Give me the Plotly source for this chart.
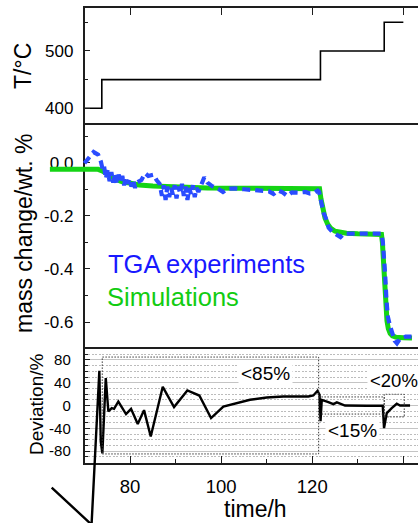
import plotly.graph_objects as go

W, H = 418, 523

# ---------------- data ----------------
temp_time = [70.0, 73.8, 121.8, 135.8, 140.0]
temp_C = [400, 450, 500, 550, 550]

sim_time = [62.4, 73.0, 74.0, 75.0, 76.5, 78.0, 80.0, 82.0, 85.0, 90.0, 97.0, 105.0, 115.0,
            121.6, 121.9, 122.3, 122.8, 123.4, 124.0, 125.0, 126.0, 127.5, 130.0, 135.2,
            135.4, 135.6, 135.8, 136.0, 136.2, 136.4, 136.7, 137.1, 137.6, 138.3, 140.0, 141.9]
sim_mass = [-0.025, -0.025, -0.032, -0.045, -0.060, -0.070, -0.079, -0.084, -0.088, -0.092, -0.095, -0.096, -0.097,
            -0.098, -0.135, -0.175, -0.208, -0.232, -0.246, -0.258, -0.263, -0.266, -0.268, -0.270,
            -0.300, -0.360, -0.430, -0.500, -0.555, -0.595, -0.625, -0.643, -0.652, -0.657, -0.659, -0.660]

tga_time = [70.0, 72.0, 73.0, 73.6, 74.0,
            74.3, 74.7, 75.1, 75.5, 75.9, 76.3, 76.7, 77.1, 77.5, 77.9, 78.3, 78.7, 79.1, 79.5, 79.9,
            80.3, 80.7, 81.1, 81.5,
            82.5, 83.3, 84.0, 85.2, 85.8, 86.5,
            87.0, 87.4, 87.8, 88.2, 88.6, 89.0, 89.4, 89.8, 90.2, 90.6, 91.0, 91.4, 91.8, 92.2, 92.6,
            93.0, 93.4, 93.8, 94.2, 94.6, 95.0,
            95.6, 96.3, 97.0, 98.0, 99.5, 100.4, 101.5, 103.0, 105.0, 107.0, 109.0, 110.5, 111.5, 112.5,
            113.5, 114.5, 115.5, 117.0, 118.5, 119.5, 120.5, 121.2, 121.5, 121.9, 122.5, 123.0, 123.6,
            124.5, 125.6, 126.2, 127.0, 130.0, 133.0, 135.2, 135.5, 135.8, 136.0, 136.3, 136.6, 137.0,
            137.6, 138.1, 138.6, 139.2, 139.8, 140.5, 141.8]
tga_mass = [-0.002, 0.040, 0.030, 0.004, -0.027,
            -0.015, -0.060, -0.025, -0.070, -0.035, -0.075, -0.040, -0.080, -0.045, -0.070, -0.050, -0.085,
            -0.055, -0.080, -0.060, -0.090, -0.065, -0.095, -0.075,
            -0.065, -0.040, -0.050, -0.045, -0.065, -0.080,
            -0.125, -0.085, -0.140, -0.090, -0.130, -0.095, -0.120, -0.085, -0.135, -0.090, -0.115, -0.080,
            -0.125, -0.090, -0.140, -0.095, -0.120, -0.085, -0.130, -0.095, -0.110,
            -0.080, -0.055, -0.075, -0.088, -0.100, -0.110, -0.098, -0.097, -0.100, -0.104, -0.106, -0.108,
            -0.118, -0.105, -0.112, -0.125, -0.112, -0.113, -0.110, -0.116, -0.113, -0.105, -0.110, -0.150,
            -0.190, -0.210, -0.245, -0.262, -0.275, -0.280, -0.267, -0.266, -0.267, -0.267, -0.300, -0.350,
            -0.420, -0.520, -0.580, -0.610, -0.645, -0.670, -0.680, -0.665, -0.660, -0.655, -0.655]

dev_time = [62.8, 71.55, 73.26, 73.57, 73.92, 74.67, 75.24, 75.98, 76.49, 77.43, 79.12, 80.22, 81.69,
            83.07, 84.54, 87.18, 89.66, 92.58, 95.21, 97.78, 100.48, 103.42, 106.34, 110.01, 113.66,
            119.14, 120.24, 121.16, 121.6, 121.82, 122.09, 123.54, 124.64, 125.4, 126.48, 127.2, 131.97,
            135.48, 135.76, 136.36, 137.45, 138.55, 139.28, 141.47]
dev_pct = [-144, -209, 61, -63, -84, 48, -10.5, -4.6, -5.8, 7.0, -15.1, -5.8, -32.6,
           -8.1, -54.4, 32.8, -2.8, 26.3, 17.5, -22.1, -1.8, 4.2, 10.0, 14.0, 15.8,
           15.8, 17.5, 25.8, 18.8, -27.7, 10.0, 6.0, 2.5, 5.6, 2.0, 0.0, -0.5,
           -0.5, -39.6, -13.3, -4.6, 3.0, 0.0, 0.0]

time_ticks = [80, 100, 120, 140]
time_ticktext = ["80", "100", "120", "140"]
time_minor = [70, 90, 110, 130]
temp_ticks = [400, 500]
temp_ticktext = ["400", "500"]
temp_minor = [450, 550]
mass_ticks = [0.0, -0.2, -0.4, -0.6]
mass_ticktext = ["0.0", "-0.2", "-0.4", "-0.6"]
mass_minor = [0.1, -0.1, -0.3, -0.5]
dev_ticks = [80, 40, 0, -40, -80]
dev_ticktext = ["80", "40", "0", "-40", "-80"]
dev_minor = [90, 70, 60, 50, 30, 20, 10, -10, -20, -30, -50, -60, -70, -90]

box_labels = ["&lt;85%", "&lt;15%", "&lt;20%"]
box_t0 = [73.9, 121.4, 135.8]
box_t1 = [121.4, 135.8, 140.2]
box_limit = [85, 15, 20]

# ---------------- layout geometry ----------------
def px_x(p):
    return p / W

def px_y(p):
    return 1 - p / H

X_DOM = [px_x(84.5), 1.0]
PXH = 4.555  # px per hour
X_RANGE = [70.0, 70.0 + (W - 84.5) / PXH]
TOP = [px_y(123), px_y(8)]
MID = [px_y(348.5), px_y(123)]
BOT = [px_y(462.5), px_y(348.5)]
T_RANGE = [374.3, 575.0]
M_RANGE = [-0.6998, 0.1495]
D_RANGE = [-100.0, 100.0]


def full_range(rng, dom):
    r0, r1 = rng
    d0, d1 = dom
    k = (r1 - r0) / (d1 - d0)
    return [r0 - k * d0, r1 + k * (1 - d1)]


FONT = "Liberation Sans, Arial, sans-serif"
LINE_C = "#1e1e1e"
LW = 1.5

fig = go.Figure()
fig.add_trace(go.Scatter(x=temp_time, y=temp_C, mode="lines",
                         line=dict(color="black", width=1.6, shape="hv"),
                         xaxis="x", yaxis="y", showlegend=False, hoverinfo="skip"))
# empty traces so that the framed middle / bottom panels exist as subplots
fig.add_trace(go.Scatter(x=[], y=[], mode="lines", xaxis="x2", yaxis="y2",
                         showlegend=False, hoverinfo="skip"))
fig.add_trace(go.Scatter(x=[], y=[], mode="lines", xaxis="x3", yaxis="y3",
                         showlegend=False, hoverinfo="skip"))
fig.add_trace(go.Scatter(x=sim_time, y=sim_mass, mode="lines",
                         line=dict(color="#14d414", width=5),
                         xaxis="x4", yaxis="y4", showlegend=False))
fig.add_trace(go.Scatter(x=tga_time, y=tga_mass, mode="lines",
                         line=dict(color="#2a4cff", width=4.2, dash="8px,5px"),
                         xaxis="x4", yaxis="y4", showlegend=False))
fig.add_trace(go.Scatter(x=dev_time, y=dev_pct, mode="lines",
                         line=dict(color="black", width=2.4),
                         xaxis="x4", yaxis="y5", showlegend=False))

tickfont = dict(family=FONT, size=17, color="black")

common_y = dict(showline=True, linecolor=LINE_C, linewidth=LW, mirror=False,
                ticks="inside", ticklen=6, tickwidth=1.2, tickcolor=LINE_C,
                zeroline=False, ticklabelstandoff=6)

fig.update_layout(
    width=W, height=H,
    margin=dict(l=0, r=0, t=0, b=0, pad=0),
    paper_bgcolor="white", plot_bgcolor="rgba(0,0,0,0)",
    font=dict(family=FONT, color="black"),
    showlegend=False,
    xaxis=dict(domain=X_DOM, range=X_RANGE, anchor="y", side="top",
               showline=True, linecolor=LINE_C, linewidth=LW, mirror=True,
               tickmode="array", tickvals=time_ticks, ticks="inside", ticklen=7,
               tickwidth=1.2, tickcolor=LINE_C, showticklabels=False,
               showgrid=False, zeroline=False),
    yaxis=dict(domain=TOP, range=T_RANGE, anchor="x",
               tickmode="array", tickvals=temp_ticks, ticktext=temp_ticktext,
               tickfont=tickfont, showgrid=False,
               minor=dict(tickmode="array", tickvals=temp_minor, ticks="inside",
                          ticklen=3.5, tickcolor=LINE_C, showgrid=False),
               **common_y),
    xaxis2=dict(domain=X_DOM, range=X_RANGE, anchor="y2",
                showline=False, ticks="", showticklabels=False, showgrid=False, zeroline=False),
    yaxis2=dict(domain=MID, range=M_RANGE, anchor="x2",
                tickmode="array", tickvals=mass_ticks, ticktext=mass_ticktext,
                tickfont=tickfont, showgrid=False,
                minor=dict(tickmode="array", tickvals=mass_minor, ticks="inside",
                           ticklen=3.5, tickcolor=LINE_C, showgrid=False),
                **common_y),
    xaxis3=dict(domain=X_DOM, range=X_RANGE, anchor="y3", side="bottom",
                showline=True, linecolor=LINE_C, linewidth=LW, mirror=True,
                tickmode="array", tickvals=time_ticks, ticktext=time_ticktext,
                ticks="inside", ticklen=7, tickwidth=1.2, tickcolor=LINE_C,
                tickfont=dict(family=FONT, size=18.5, color="black"),
                ticklabelstandoff=7,
                minor=dict(tickmode="array", tickvals=time_minor, ticks="inside",
                           ticklen=3.5, tickcolor=LINE_C, showgrid=False),
                showgrid=False, zeroline=False),
    yaxis3=dict(domain=BOT, range=D_RANGE, anchor="x3",
                tickmode="array", tickvals=dev_ticks, ticktext=dev_ticktext,
                tickfont=dict(family=FONT, size=15, color="black"),
                showgrid=True, gridcolor="#c4c4c4", gridwidth=1,
                minor=dict(tickmode="array", tickvals=dev_minor, ticks="inside",
                           ticklen=3.5, tickcolor=LINE_C, showgrid=True,
                           gridcolor="#bcbcbc", gridwidth=1, griddash="2px,1.5px"),
                showline=True, linecolor=LINE_C, linewidth=LW, mirror=False,
                ticks="inside", ticklen=6, tickwidth=1.2, tickcolor=LINE_C,
                zeroline=False, ticklabelstandoff=9),
    # full-page overlay axes (same scales) so lines can run outside the frame
    xaxis4=dict(domain=[0, 1], range=full_range(X_RANGE, X_DOM), anchor="y4", visible=False),
    yaxis4=dict(domain=[0, 1], range=full_range(M_RANGE, MID), anchor="x4", visible=False),
    yaxis5=dict(range=full_range(D_RANGE, BOT), anchor="x4", overlaying="y4", visible=False),
)

# dotted threshold boxes
for t0, t1, lim in zip(box_t0, box_t1, box_limit):
    fig.add_shape(type="rect", xref="x3", yref="y3", x0=t0, x1=t1, y0=-lim, y1=lim,
                  line=dict(color="#3a3a3a", width=1, dash="1.5px,1.5px"),
                  fillcolor="rgba(0,0,0,0)")

label_pos = [(265, 373, "center", 19), (352, 430, "center", 19), (367, 380.5, "left", 18.5)]
for txt, (lx, ly, anc, sz) in zip(box_labels, label_pos):
    fig.add_annotation(text=txt, x=px_x(lx), y=px_y(ly), xref="paper", yref="paper",
                       xanchor=anc, yanchor="middle", showarrow=False,
                       font=dict(family=FONT, size=sz, color="black"),
                       bgcolor="white", borderpad=2)

titles = [("T/°C", 23, 66, 23, -90, "middle"), ("mass change/wt. %", 24, 234, 23, -90, "middle"),
          ("Deviation/%", 36, 405, 19, -90, "middle")]
for txt, tx, ty, sz, ang, ya in titles:
    fig.add_annotation(text=txt, x=px_x(tx), y=px_y(ty), xref="paper", yref="paper",
                       xanchor="center", yanchor=ya, showarrow=False, textangle=ang,
                       font=dict(family=FONT, size=sz, color="black"))
fig.add_annotation(text="time/h", x=px_x(255), y=0, xref="paper", yref="paper",
                   xanchor="center", yanchor="bottom", showarrow=False, borderpad=0,
                   font=dict(family=FONT, size=23, color="black"))

fig.add_annotation(text="TGA experiments", x=px_x(106), y=px_y(263.5), xref="paper", yref="paper",
                   xanchor="left", yanchor="middle", showarrow=False,
                   font=dict(family=FONT, size=25.5, color="#1818ff"))
fig.add_annotation(text="Simulations", x=px_x(105), y=px_y(297), xref="paper", yref="paper",
                   xanchor="left", yanchor="middle", showarrow=False,
                   font=dict(family=FONT, size=25.5, color="#12cc12"))

fig.write_html("out.html")
